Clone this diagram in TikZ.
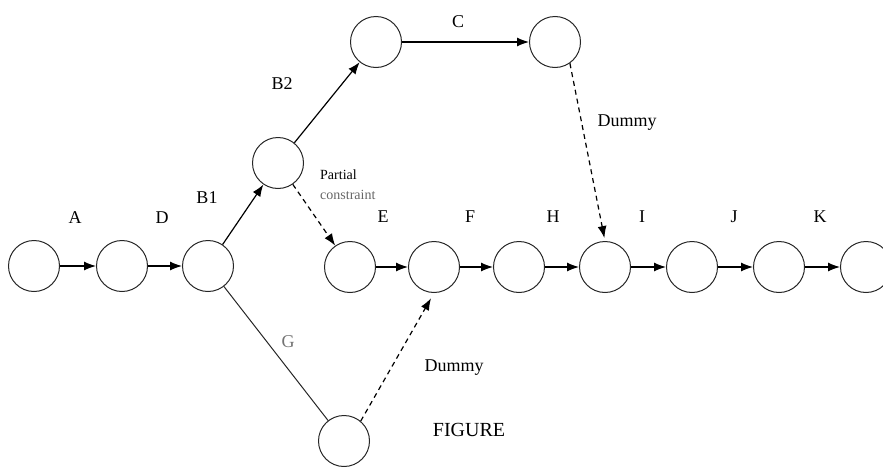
\documentclass[tikz,border=0pt]{standalone}
\usepackage{fontspec}
\setmainfont{Liberation Serif}
\usetikzlibrary{arrows.meta}
\begin{document}
\begin{tikzpicture}[x=1pt,y=-1pt,
  ev/.style={circle,draw=black!85,line width=1pt,minimum size=51pt,inner sep=0pt},
  act/.style={draw=black,line width=1.2pt,-{Latex[length=12pt,width=9pt]}},
  dum/.style={act,dash pattern=on 5pt off 4pt},
  plain/.style={draw=black!85,line width=1pt},
  lbl/.style={font=\fontsize{18}{20}\selectfont,inner sep=0pt},
  small/.style={font=\fontsize{14}{22}\selectfont,inner sep=0pt,align=left}]
\useasboundingbox (0,0) rectangle (883,466);
% events
\node[ev] (n1) at (34,266) {};
\node[ev] (n2) at (122,266) {};
\node[ev] (n3) at (208,266) {};
\node[ev] (up) at (278,163) {};
\node[ev] (t1) at (376,42) {};
\node[ev] (t2) at (555,42) {};
\node[ev] (e) at (350,267) {};
\node[ev] (f) at (434,267) {};
\node[ev] (h) at (519,267) {};
\node[ev] (i) at (605,267) {};
\node[ev] (j) at (692,267) {};
\node[ev] (k) at (779,267) {};
\node[ev] (l) at (866,267) {};
\node[ev] (bot) at (344,441) {};
% activities
\draw[act] (n1) -- (n2);
\draw[act] (n2) -- (n3);
\draw[act] (n3) -- (up);
\draw[act] (up) -- (t1);
\draw[act] (t1) -- (t2);
\draw[dum] (up) -- (e);
\draw[act] (e) -- (f);
\draw[act] (f) -- (h);
\draw[act] (h) -- (i);
\draw[act] (i) -- (j);
\draw[act] (j) -- (k);
\draw[act] (k) -- (l);
\draw[plain] (n3) -- (bot);
\draw[dum,shorten >=6pt] (bot.50) -- (f.south);
\draw[dum,shorten >=3pt] (t2.-55) -- (i.north);
% labels
\node[lbl] (la) at (75,218) {A};
\node[lbl] (ld) at (162,218) {D};
\node[lbl] (lb1) at (207,198) {B1};
\node[lbl] (lb2) at (282,84) {B2};
\node[lbl] (lc) at (458,22) {C};
\node[lbl] (le) at (383,217) {E};
\node[lbl] (lf) at (470,217) {F};
\node[lbl] (lh) at (553,217) {H};
\node[lbl] (li) at (642,217) {I};
\node[lbl] (lj) at (734,217) {J};
\node[lbl] (lk) at (820,217) {K};
\node[lbl,text=black!55] (lg) at (288,342) {G};
\node[small,anchor=north west] (lp) at (320,170) {Partial\\[-2pt]{\color{black!60}constraint}};
\node[lbl] (ldu1) at (627,123) {Dummy};
\node[lbl] (ldu2) at (454,368) {Dummy};
\node[font=\fontsize{20}{22}\selectfont,inner sep=0pt] (lfig) at (469,430) {FIGURE};
\end{tikzpicture}
\end{document}
